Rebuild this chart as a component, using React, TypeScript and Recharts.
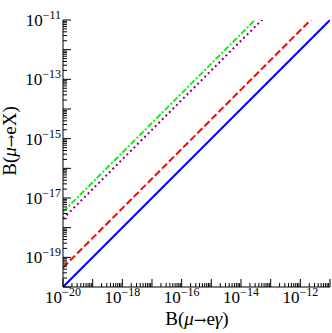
import React from "react";
import { LineChart, Line, XAxis, YAxis } from "recharts";

// ---- data (log-log, B(mu->e gamma) vs B(mu->e X)) ----
const xValues = [1e-20, 1e-11];
const blueSolid = [1e-20, 1e-11];
const redDashed = [4.5e-20, 4.5e-11];
const purpleDotted = [2.0e-18, 2.0e-9];
const greenDotDashed = [3.4e-18, 3.4e-9];

const decadeExps = [-20, -19, -18, -17, -16, -15, -14, -13, -12, -11];
const minorMultipliers = [2, 3, 4, 5, 6, 7, 8, 9];
const xLabelExps = [-20, -18, -16, -14, -12];
const yLabelExps = [-19, -17, -15, -13, -11];

const DOMAIN: [number, number] = [1e-20, 1e-11];

const tickValues: number[] = [];
decadeExps.forEach((e) => {
  tickValues.push(Math.pow(10, e));
  if (e < -11) minorMultipliers.forEach((m) => tickValues.push(m * Math.pow(10, e)));
});

const data = xValues.map((x, i) => ({
  x,
  blue: blueSolid[i],
  red: redDashed[i],
  purple: purpleDotted[i],
  green: greenDotDashed[i],
}));

// ---- layout ----
const W = 332;
const H = 333;
const M_TOP = 20;
const M_RIGHT = 2;
const LEFT_W = 63;
const BOTTOM_H = 46;
const PLOT_LEFT = LEFT_W;
const PLOT_RIGHT = W - M_RIGHT;
const PLOT_TOP = M_TOP;
const PLOT_BOTTOM = H - BOTTOM_H;
const MAJOR = 8;
const MINOR = 4;
const FONT = "'Liberation Serif', 'Times New Roman', serif";
const ARROW_FONT = "'DejaVu Serif', serif";

const info = (v: number) => {
  const e = Math.round(Math.log10(v));
  const isDecade = Math.abs(v / Math.pow(10, e) - 1) < 1e-6;
  return { e, isDecade };
};

const BottomTick = (props: any) => {
  const { x, payload } = props;
  const { e, isDecade } = info(payload.value);
  const len = isDecade ? MAJOR : MINOR;
  return (
    <g>
      <line x1={x} x2={x} y1={PLOT_BOTTOM} y2={PLOT_BOTTOM - len} stroke="#000" strokeWidth={1} />
      {isDecade && xLabelExps.includes(e) && (
        <text x={x} y={PLOT_BOTTOM + 16} textAnchor="middle" fontFamily={FONT} fontSize={17} fill="#000">
          10
          <tspan dy={-7} fontSize={12}>{"\u2212" + Math.abs(e)}</tspan>
        </text>
      )}
    </g>
  );
};

const TopTick = (props: any) => {
  const { x, payload } = props;
  const { isDecade } = info(payload.value);
  const len = isDecade ? MAJOR : MINOR;
  return <line x1={x} x2={x} y1={PLOT_TOP} y2={PLOT_TOP + len} stroke="#000" strokeWidth={1} />;
};

const LeftTick = (props: any) => {
  const { y, payload } = props;
  const { e, isDecade } = info(payload.value);
  const len = isDecade ? MAJOR : MINOR;
  return (
    <g>
      <line x1={PLOT_LEFT} x2={PLOT_LEFT + len} y1={y} y2={y} stroke="#000" strokeWidth={1} />
      {isDecade && yLabelExps.includes(e) && (
        <text x={PLOT_LEFT - 2} y={y + 6} textAnchor="end" fontFamily={FONT} fontSize={17} fill="#000">
          10
          <tspan dy={-7} fontSize={12}>{"\u2212" + Math.abs(e)}</tspan>
        </text>
      )}
    </g>
  );
};

const RightTick = (props: any) => {
  const { y, payload } = props;
  const { isDecade } = info(payload.value);
  const len = isDecade ? MAJOR : MINOR;
  return <line x1={PLOT_RIGHT} x2={PLOT_RIGHT - len} y1={y} y2={y} stroke="#000" strokeWidth={1} />;
};

export default function App() {
  return (
    <div style={{ position: "absolute", left: 0, top: 0, width: W, height: H, background: "#fff" }}>
      <LineChart
        width={W}
        height={H}
        data={data}
        margin={{ top: M_TOP, right: M_RIGHT, bottom: 0, left: 0 }}
      >
        <XAxis
          xAxisId="bottom"
          dataKey="x"
          type="number"
          scale="log"
          domain={DOMAIN}
          allowDataOverflow
          ticks={tickValues}
          interval={0}
          height={BOTTOM_H}
          tickLine={false}
          tick={<BottomTick />}
          axisLine={{ stroke: "#000", strokeWidth: 1 }}
        />
        <XAxis
          xAxisId="top"
          orientation="top"
          dataKey="x"
          type="number"
          scale="log"
          domain={DOMAIN}
          allowDataOverflow
          ticks={tickValues}
          interval={0}
          height={0}
          tickLine={false}
          tick={<TopTick />}
          axisLine={{ stroke: "#000", strokeWidth: 1 }}
        />
        <YAxis
          yAxisId="left"
          type="number"
          scale="log"
          domain={DOMAIN}
          allowDataOverflow
          ticks={tickValues}
          interval={0}
          width={LEFT_W}
          tickLine={false}
          tick={<LeftTick />}
          axisLine={{ stroke: "#000", strokeWidth: 1 }}
        />
        <YAxis
          yAxisId="right"
          orientation="right"
          type="number"
          scale="log"
          domain={DOMAIN}
          allowDataOverflow
          ticks={tickValues}
          interval={0}
          width={0}
          tickLine={false}
          tick={<RightTick />}
          axisLine={{ stroke: "#000", strokeWidth: 1 }}
        />
        <Line xAxisId="bottom" yAxisId="left" dataKey="blue" stroke="#0000ff" strokeWidth={2} dot={false} isAnimationActive={false} />
        <Line xAxisId="bottom" yAxisId="left" dataKey="red" stroke="#ff0000" strokeWidth={2} strokeDasharray="7 3" dot={false} isAnimationActive={false} />
        <Line xAxisId="bottom" yAxisId="left" dataKey="purple" stroke="#800080" strokeWidth={2} strokeDasharray="2 3" dot={false} isAnimationActive={false} />
        <Line xAxisId="bottom" yAxisId="left" dataKey="green" stroke="#00ff00" strokeWidth={2} strokeDasharray="6 2 2 2" dot={false} isAnimationActive={false} />
      </LineChart>
      <svg width={W} height={H} style={{ position: "absolute", left: 0, top: 0, pointerEvents: "none" }}>
        <text x={197} y={325} textAnchor="middle" fontFamily={FONT} fontSize={19} fill="#000">
          {"B("}
          <tspan fontStyle="italic">μ</tspan>
          <tspan fontFamily={ARROW_FONT} fontSize={15}>→</tspan>
          {"e"}
          <tspan fontStyle="italic">γ</tspan>
          {")"}
        </text>
        <text
          x={0}
          y={0}
          transform={`translate(16, 141) rotate(-90)`}
          textAnchor="middle"
          fontFamily={FONT}
          fontSize={19}
          fill="#000"
        >
          {"B("}
          <tspan fontStyle="italic">μ</tspan>
          <tspan fontFamily={ARROW_FONT} fontSize={15}>→</tspan>
          {"eX)"}
        </text>
      </svg>
    </div>
  );
}
